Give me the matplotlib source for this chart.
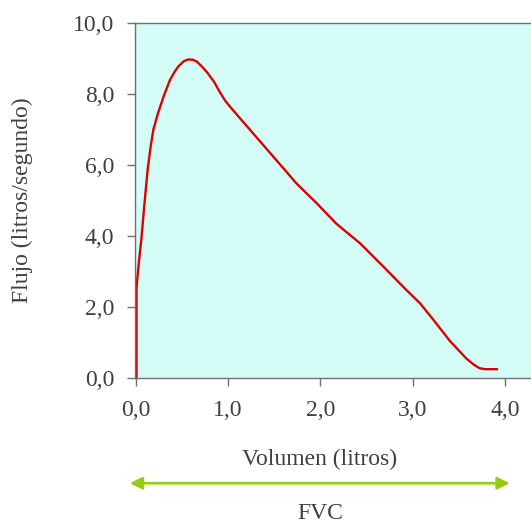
import matplotlib
matplotlib.use("Agg")
import matplotlib.pyplot as plt

# Flow-volume curve
volumen = [0.008, 0.008, 0.02, 0.035, 0.06, 0.097, 0.13, 0.16, 0.19, 0.24, 0.30, 0.37,
           0.42, 0.46, 0.52, 0.57, 0.62, 0.66, 0.72, 0.78, 0.85, 0.91, 0.97, 1.05,
           1.16, 1.27, 1.49, 1.74, 1.96, 2.17, 2.43, 2.68, 2.93, 3.08, 3.22, 3.40,
           3.58, 3.66, 3.72, 3.78, 3.91]
flujo = [0.0, 2.55, 2.9, 3.3, 3.9, 5.0, 5.9, 6.5, 6.99, 7.45, 7.92, 8.39,
         8.62, 8.77, 8.92, 8.97, 8.96, 8.91, 8.76, 8.58, 8.33, 8.05, 7.8, 7.55,
         7.22, 6.89, 6.23, 5.48, 4.92, 4.35, 3.79, 3.14, 2.48, 2.10, 1.65, 1.05,
         0.55, 0.38, 0.28, 0.25, 0.25]

x_ticks = [0, 1, 2, 3, 4]
y_ticks = [0, 2, 4, 6, 8, 10]
x_labels = ["0,0", "1,0", "2,0", "3,0", "4,0"]
y_labels = ["0,0", "2,0", "4,0", "6,0", "8,0", "10,0"]

plt.rcParams['font.family'] = ['Liberation Serif', 'DejaVu Serif']
txt = "#404040"
gray = "#707070"

fig = plt.figure(figsize=(5.31, 5.31), dpi=100)
ax = fig.add_axes([0.254, 0.288, 0.746, 0.669])
ax.set_facecolor("#d3fcf6")

ax.plot(volumen, flujo, color="#dd0000", lw=1.7, solid_joinstyle="round")

ax.set_xlim(-0.01, 4.28)
ax.set_ylim(0, 10)
ax.set_xticks(x_ticks)
ax.set_xticklabels(x_labels)
ax.set_yticks(y_ticks)
ax.set_yticklabels(y_labels)
ax.tick_params(axis="both", direction="out", length=6, width=1, color=gray,
               labelsize=17, labelcolor=txt)
ax.tick_params(axis="y", pad=9)
ax.tick_params(axis="x", pad=10)

for side in ["left", "bottom", "top"]:
    ax.spines[side].set_color(gray)
    ax.spines[side].set_linewidth(1)
ax.spines["right"].set_visible(False)

ax.set_xlabel("Volumen (litros)", fontsize=17, color=txt)
ax.xaxis.set_label_coords(0.467, -0.228)
ax.xaxis.label.set_va("center")
ax.set_ylabel("Flujo (litros/segundo)", fontsize=17, color=txt)
ax.yaxis.set_label_coords(-0.285, 0.5)
ax.yaxis.label.set_va("center")

# FVC arrow below the axis
tr = ax.get_xaxis_transform()
ax.annotate("", xy=(-0.065, -0.296), xytext=(4.05, -0.296), xycoords=tr, textcoords=tr,
            arrowprops=dict(arrowstyle="<|-|>", color="#99cc11", lw=2,
                            mutation_scale=18, shrinkA=0, shrinkB=0),
            annotation_clip=False)
ax.text(2.0, -0.38, "FVC", transform=tr, ha="center", va="center",
        fontsize=17, color=txt, clip_on=False)

fig.savefig("out.png", dpi=100)
